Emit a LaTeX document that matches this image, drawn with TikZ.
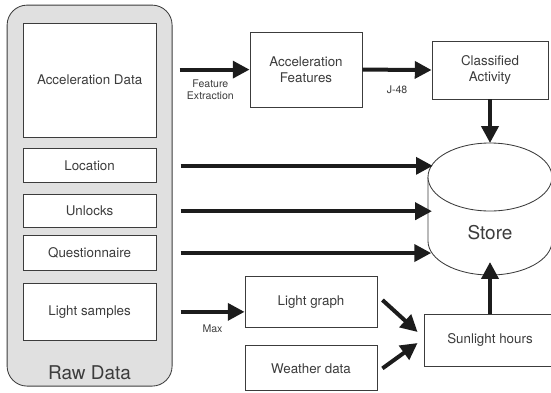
\documentclass[tikz,border=0pt]{standalone}
\usepackage{fontspec}
\setmainfont{TeX Gyre Heros}
\usepackage{tikz}
\usetikzlibrary{shapes.geometric,arrows.meta,positioning}
\definecolor{panelgray}{RGB}{224,224,224}
\definecolor{inkgray}{RGB}{60,60,60}
\definecolor{arrowink}{RGB}{28,28,28}
\tikzset{
  panel/.style={rectangle,rounded corners=0.5cm,draw=inkgray,line width=0.6pt,fill=panelgray},
  src/.style={rectangle,draw=inkgray,line width=0.6pt,fill=white,minimum width=3.325cm,
              align=center,font=\fontsize{9.5}{11.8}\selectfont,text=inkgray},
  proc/.style={rectangle,draw=inkgray,line width=0.6pt,fill=white,
              align=center,font=\fontsize{9.5}{11.8}\selectfont,text=inkgray},
  storebox/.style={rectangle,minimum width=3.1cm,minimum height=3.3cm,inner sep=0pt,outer sep=0pt},
  storeline/.style={draw=inkgray,line width=0.6pt,fill=white},
  biglabel/.style={font=\fontsize{13.5}{16}\selectfont,text=inkgray},
  tag/.style={font=\fontsize{7.5}{9.2}\selectfont,text=inkgray,align=center,inner sep=1pt},
  flow/.style={-{Triangle[length=0.42cm,width=0.42cm]},line width=0.1cm,draw=arrowink},
}

\begin{document}
\begin{tikzpicture}
  \useasboundingbox (0,0) rectangle (13.775,9.8);
  % raw data panel
  \node[panel,minimum width=4.125cm,minimum height=9.525cm] (raw) at (2.24,4.91) {};
  \node[biglabel] (rawlbl) at (2.24,0.475) {Raw Data};
  \node[src,minimum height=2.85cm] (accdata) at (2.24,7.8) {Acceleration Data};
  \node[src,minimum height=0.85cm,below=0.275cm of accdata] (loc) {Location};
  \node[src,minimum height=0.825cm,below=0.275cm of loc] (unlocks) {Unlocks};
  \node[src,minimum height=0.875cm,below=0.175cm of unlocks] (quest) {Questionnaire};
  \node[src,minimum height=1.425cm,below=0.3cm of quest] (lightsmp) {Light samples};
  % processing
  \node[proc,minimum width=2.8cm,minimum height=1.875cm] (accfeat) at (7.65,8.06) {Acceleration\\Features};
  \node[proc,minimum width=2.9cm,minimum height=1.45cm] (activity) at (12.25,8.05) {Classified\\Activity};
  % store drum
  \node[storebox] (store) at (12.25,4.575) {};
  \path[storeline] ([yshift=-0.85cm]store.north west) -- ([yshift=0.85cm]store.south west)
    arc[start angle=180,end angle=360,x radius=1.55cm,y radius=0.85cm]
    -- ([yshift=-0.85cm]store.north east)
    arc[start angle=0,end angle=180,x radius=1.55cm,y radius=0.85cm] -- cycle;
  \draw[storeline] ([yshift=-0.85cm]store.north west)
    arc[start angle=180,end angle=360,x radius=1.55cm,y radius=0.85cm];
  \node[biglabel] (storelbl) at (12.25,3.975) {Store};
  \node[proc,minimum width=3.3cm,minimum height=1.275cm] (lightgr) at (7.775,2.24) {Light graph};
  \node[proc,minimum width=3.3cm,minimum height=1.125cm] (weather) at (7.775,0.59) {Weather data};
  \node[proc,minimum width=3.3cm,minimum height=1.3cm] (sunhrs) at (12.25,1.3) {Sunlight hours};
  % connectors
  \draw[flow] ([xshift=-1.75cm]accfeat.west) -- (accfeat.west) node[tag,midway,below=4.5pt,xshift=-3pt] {Feature\\Extraction};
  \draw[flow] (accfeat.east) -- (activity.west) node[tag,midway,below=9pt] {J-48};
  \draw[flow] (activity.south) -- (store.north);
  \draw[flow,shorten >=-0.12cm] ([xshift=0.6cm]loc.east) -- (loc.east -| store.west);
  \draw[flow,shorten >=-0.1cm] ([xshift=0.6cm]unlocks.east) -- (unlocks.east -| store.west);
  \draw[flow,shorten >=-0.08cm] ([xshift=0.6cm]quest.east) -- (quest.east -| store.west);
  \draw[flow] ([xshift=0.6cm]lightsmp.east) -- (lightsmp.east -| lightgr.west) node[tag,midway,below=7pt] {Max};
  \draw[flow] ([xshift=0.125cm,yshift=0.06cm]lightgr.east) -- ([xshift=-0.15cm,yshift=0.2cm]sunhrs.west);
  \draw[flow] ([xshift=0.125cm]weather.east) -- ([xshift=-0.15cm,yshift=-0.075cm]sunhrs.west);
  \draw[flow] (sunhrs.north) -- ([yshift=0.325cm]store.south);
\end{tikzpicture}
\end{document}
